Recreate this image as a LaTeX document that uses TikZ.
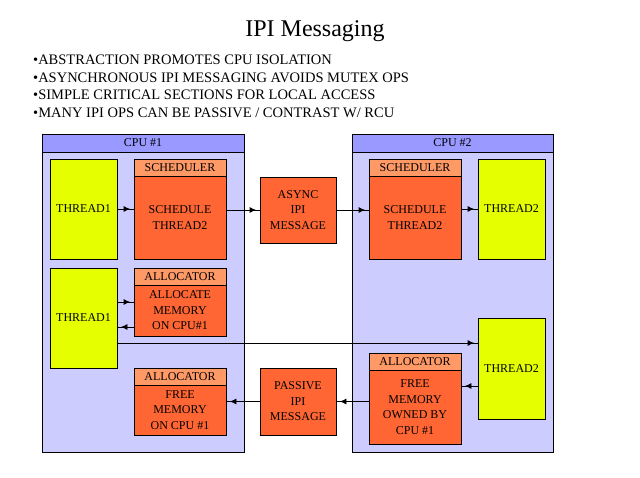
\documentclass[tikz,border=0pt]{standalone}
\usepackage{fontspec}
\setmainfont{Liberation Serif}
\usetikzlibrary{arrows.meta,decorations.markings}
\definecolor{panelbody}{HTML}{CCCCFF}
\definecolor{panelhead}{HTML}{9999FF}
\definecolor{boxbody}{HTML}{FF6633}
\definecolor{boxhead}{HTML}{FF9966}
\definecolor{threadfill}{HTML}{E6FF00}
\tikzset{
  base/.style={draw=black,line width=0.8pt,inner sep=0pt,rectangle,align=center,
    font=\fontsize{12}{15.5}\selectfont},
  panel/.style={base,fill=panelbody},
  panelhd/.style={base,fill=panelhead},
  thread/.style={base,fill=threadfill},
  obody/.style={base,fill=boxbody},
  ohead/.style={base,fill=boxhead},
  arr/.style={draw=black,line width=0.8pt,postaction={decorate},
    decoration={markings,mark=at position -3.5pt with {\arrow{Latex[length=6.5pt,width=6pt]}}}},
  bullet/.style={anchor=base west,inner sep=0pt,font=\fontsize{14.5}{17.5}\selectfont}
}
\begin{document}
\begin{tikzpicture}[x=1pt,y=-1pt]
\useasboundingbox (0,0) rectangle (640,477);
% title
\node[inner sep=0pt,font=\fontsize{24}{28}\selectfont] (title) at (315,31) {IPI Messaging};
\node[bullet] (b1) at (33,64.5) {•ABSTRACTION PROMOTES CPU ISOLATION};
\node[bullet] (b2) at (33,82) {•ASYNCHRONOUS IPI MESSAGING AVOIDS MUTEX OPS};
\node[bullet] (b3) at (33,99.5) {•SIMPLE CRITICAL SECTIONS FOR LOCAL ACCESS};
\node[bullet] (b4) at (33,117) {•MANY IPI OPS CAN BE PASSIVE / CONTRAST W/ RCU};
% panels
\node[panel,minimum width=202,minimum height=318] (cpu1) at (143,293) {};
\node[panelhd,minimum width=202,minimum height=18] (cpu1h) at (143,143) {CPU \#1};
\node[panel,minimum width=201,minimum height=318] (cpu2) at (452.5,293) {};
\node[panelhd,minimum width=201,minimum height=18] (cpu2h) at (452.5,143) {CPU \#2};
% top row
\node[thread,minimum width=67,minimum height=100] (t1a) at (83.5,209) {THREAD1};
\node[ohead,minimum width=92,minimum height=17] (s1h) at (180,167.5) {SCHEDULER};
\node[obody,minimum width=92,minimum height=83] (s1b) at (180,217.5) {SCHEDULE\\THREAD2};
\node[obody,minimum width=76,minimum height=66] (async) at (298,210) {ASYNC\\IPI\\MESSAGE};
\node[ohead,minimum width=92,minimum height=17] (s2h) at (415,167.5) {SCHEDULER};
\node[obody,minimum width=92,minimum height=83] (s2b) at (415,217.5) {SCHEDULE\\THREAD2};
\node[thread,minimum width=67,minimum height=100] (t2a) at (511.5,209) {THREAD2};
% middle
\node[thread,minimum width=67,minimum height=100] (t1b) at (83.5,318) {THREAD1};
\node[ohead,minimum width=92,minimum height=17] (a1h) at (180,276.5) {ALLOCATOR};
\node[obody,minimum width=92,minimum height=51] (a1b) at (180,310.5) {ALLOCATE\\MEMORY\\ON CPU\#1};
\node[thread,minimum width=67,minimum height=101] (t2b) at (511.5,368.5) {THREAD2};
\node[ohead,minimum width=92,minimum height=17] (a2h) at (415,361.5) {ALLOCATOR};
\node[obody,minimum width=92,minimum height=74] (a2b) at (415,407) {FREE\\MEMORY\\OWNED BY\\CPU \#1};
\node[obody,minimum width=76,minimum height=67] (passive) at (298,401.5) {PASSIVE\\IPI\\MESSAGE};
\node[ohead,minimum width=92,minimum height=17] (a3h) at (180,376.5) {ALLOCATOR};
\node[obody,minimum width=92,minimum height=50] (a3b) at (180,410) {FREE\\MEMORY\\ON CPU \#1};
% connectors
\draw[arr] (t1a.east) -- (t1a.east -| s1b.west);
\draw[arr] (async.west -| s1b.east) -- (async.west);
\draw[arr] (async.east) -- (async.east -| s2b.west);
\draw[arr] (t2a.west -| s2b.east) -- (t2a.west);
\draw[arr] (t1b.east |- 0,302) -- (a1b.west |- 0,302);
\draw[arr] (a1b.west |- 0,327) -- (t1b.east |- 0,327);
\draw[arr] (t1b.east |- 0,343) -- (t2b.west |- 0,343);
\draw[arr] (t2b.west |- 0,386) -- (a2b.east |- 0,386);
\draw[arr] (a2b.west |- passive.east) -- (passive.east);
\draw[arr] (passive.west) -- (passive.west -| a3b.east);
\end{tikzpicture}
\end{document}
